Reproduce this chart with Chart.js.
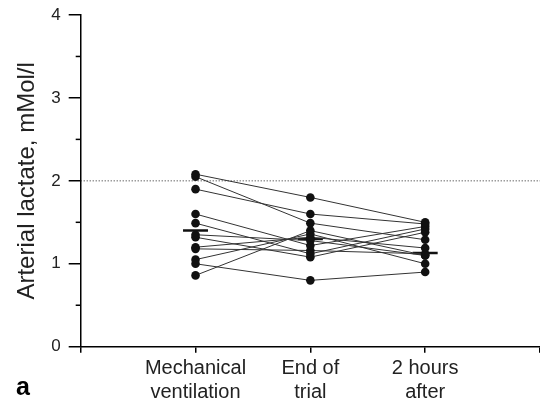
<!DOCTYPE html>
<html>
<head>
<meta charset="utf-8">
<script src="https://cdn.jsdelivr.net/npm/chart.js@4/dist/chart.umd.min.js"></script>
<style>
  html, body { margin: 0; padding: 0; background: #fff; }
  #wrap { width: 540px; height: 405px; }
</style>
</head>
<body>
<div id="wrap"><canvas id="c" width="540" height="405"></canvas></div>
<script>
// ---- data ----
const categories = [["Mechanical", "ventilation"], ["End of", "trial"], ["2 hours", "after"]];
const mechanicalVentilation = [2.08, 2.05, 1.90, 1.60, 1.49, 1.35, 1.32, 1.20, 1.18, 1.05, 1.00, 0.86];
const endOfTrial            = [1.80, 1.49, 1.60, 1.22, 1.12, 1.28, 1.08, 1.32, 1.16, 1.36, 0.80, 1.40];
const twoHoursAfter         = [1.50, 1.29, 1.48, 1.45, 1.42, 1.10, 1.38, 1.19, 1.12, 1.00, 0.90, 1.10];
const centralValues = [1.40, 1.30, 1.13];
const referenceLevel = 2;
const yTicks = [0, 1, 2, 3, 4];
const yMinorTicks = [0.5, 1.5, 2.5, 3.5];
const yTitle = "Arterial lactate, mMol/l";
const panelLabel = "a";

// ---- build datasets ----
const datasets = [];
datasets.push({
  type: 'line',
  data: [{x: 0, y: referenceLevel}, {x: 4, y: referenceLevel}],
  borderColor: '#222', borderWidth: 1, borderDash: [1, 2],
  pointRadius: 0, fill: false
});
for (let i = 0; i < mechanicalVentilation.length; i++) {
  datasets.push({
    type: 'line',
    data: [
      {x: 1, y: mechanicalVentilation[i]},
      {x: 2, y: endOfTrial[i]},
      {x: 3, y: twoHoursAfter[i]}
    ],
    borderColor: '#333', borderWidth: 1,
    pointRadius: 4.3, pointBackgroundColor: '#111', pointBorderColor: '#111', pointBorderWidth: 0,
    fill: false, tension: 0
  });
}
datasets.push({
  type: 'scatter',
  data: centralValues.map((v, i) => ({x: i + 1, y: v})),
  pointStyle: 'line', pointRadius: 12.5, borderColor: '#111', borderWidth: 2.5,
  pointBorderColor: '#111', pointBorderWidth: 2.5
});

const extras = {
  id: 'extras',
  afterDraw(chart) {
    const ctx = chart.ctx;
    const ys = chart.scales.y;
    const left = chart.chartArea.left;
    ctx.save();
    ctx.strokeStyle = '#000';
    ctx.lineWidth = 1.5;
    yMinorTicks.forEach(v => {
      const p = ys.getPixelForValue(v);
      ctx.beginPath();
      ctx.moveTo(left - 5, p);
      ctx.lineTo(left, p);
      ctx.stroke();
    });
    ctx.fillStyle = '#000';
    ctx.font = 'bold 25px "Liberation Sans", Arial, sans-serif';
    ctx.textAlign = 'left';
    ctx.textBaseline = 'alphabetic';
    ctx.fillText(panelLabel, 16, 395);
    ctx.restore();
  }
};

new Chart(document.getElementById('c'), {
  type: 'line',
  data: { datasets },
  plugins: [extras],
  options: {
    responsive: false,
    animation: false,
    layout: { autoPadding: false, padding: { top: 15, right: 0, left: 0, bottom: 0 } },
    plugins: { legend: { display: false }, tooltip: { enabled: false } },
    scales: {
      x: {
        type: 'linear', min: 0, max: 4,
        afterFit(scale) { scale.height = 58.3; scale.paddingLeft = 0; scale.paddingRight = 0; },
        afterBuildTicks(scale) { scale.ticks = [0, 1, 2, 3, 4].map(v => ({value: v})); },
        ticks: {
          autoSkip: false, maxRotation: 0, padding: 4,
          color: '#222',
          font: { family: '"Liberation Sans", Arial, sans-serif', size: 20, lineHeight: 1.2 },
          callback: (v) => (v >= 1 && v <= 3) ? categories[v - 1] : ''
        },
        grid: { display: true, drawOnChartArea: false, drawTicks: true, tickLength: 6, color: '#000', lineWidth: 1.5 },
        border: { display: true, color: '#000', width: 1.5 }
      },
      y: {
        type: 'linear', min: 0, max: 4,
        afterFit(scale) { scale.width = 80.7; scale.paddingTop = 0; scale.paddingBottom = 0; },
        afterBuildTicks(scale) { scale.ticks = yTicks.map(v => ({value: v})); },
        ticks: {
          padding: 8, color: '#222',
          font: { family: '"Liberation Sans", Arial, sans-serif', size: 17 }
        },
        grid: { display: true, drawOnChartArea: false, drawTicks: true, tickLength: 12, color: '#000', lineWidth: 1.5 },
        border: { display: true, color: '#000', width: 1.5 },
        title: {
          display: true, text: yTitle, color: '#222',
          font: { family: '"Liberation Sans", Arial, sans-serif', size: 24, lineHeight: 1.2 },
          padding: { top: 13, bottom: 0 }
        }
      }
    }
  }
});
</script>
</body>
</html>
